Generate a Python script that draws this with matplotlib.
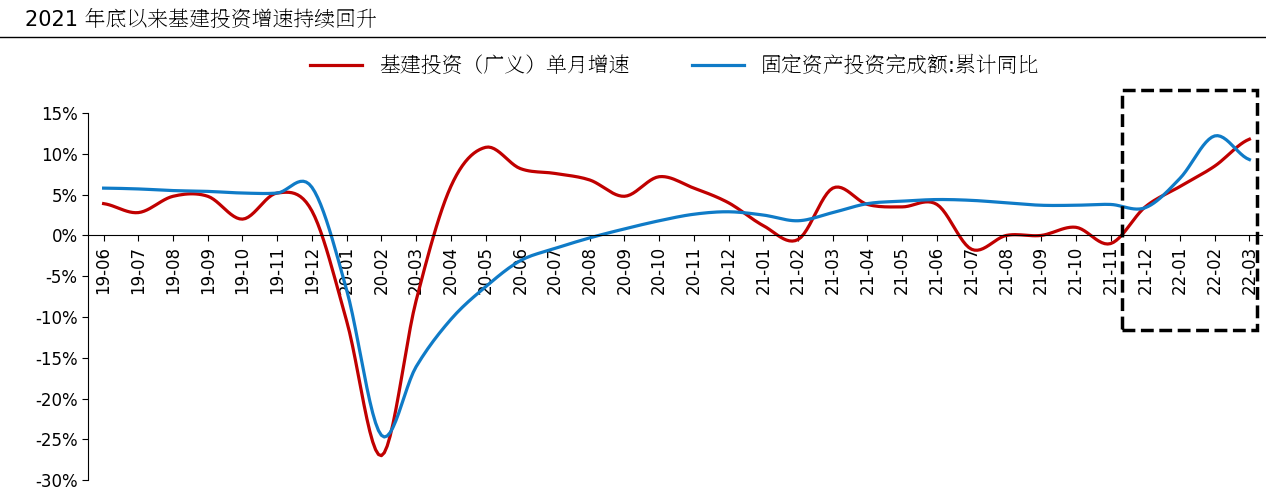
import numpy as np
import matplotlib

matplotlib.use("Agg")
import matplotlib.pyplot as plt
from matplotlib import font_manager
from matplotlib.patches import Rectangle

# pick up a CJK font by file if the family name is not registered
cjk = [f for f in font_manager.findSystemFonts() if "CJK" in f or "Noto" in f and "SC" in f]
for f in cjk:
    try:
        font_manager.fontManager.addfont(f)
    except Exception:
        pass
names = {font_manager.FontProperties(fname=f).get_name() for f in cjk}
family = [n for n in names if "CJK" in n and "SC" in n] or list(names)
plt.rcParams["font.family"] = ["DejaVu Sans"] + family[:1]
plt.rcParams["axes.unicode_minus"] = False

months = [
    "19-06", "19-07", "19-08", "19-09", "19-10", "19-11", "19-12",
    "20-01", "20-02", "20-03", "20-04", "20-05", "20-06", "20-07", "20-08",
    "20-09", "20-10", "20-11", "20-12", "21-01", "21-02", "21-03", "21-04",
    "21-05", "21-06", "21-07", "21-08", "21-09", "21-10", "21-11", "21-12",
    "22-01", "22-02", "22-03",
]
infra = [
    3.9, 2.8, 4.8, 4.8, 2.0, 5.2, 3.0,
    -10.5, -27.0, -8.0, 6.0, 10.8, 8.2, 7.6, 6.8,
    4.8, 7.2, 5.8, 4.0, 1.2, -0.5, 5.8, 3.8,
    3.5, 3.8, -1.7, 0.0, 0.0, 1.0, -1.0, 3.5,
    6.0, 8.5, 11.8,
]
fai = [
    5.8, 5.7, 5.5, 5.4, 5.2, 5.2, 5.9,
    -6.7, -24.5, -16.1, -10.3, -6.3, -3.1, -1.6, -0.3,
    0.8, 1.8, 2.6, 2.9, 2.5, 1.8, 2.8, 3.9,
    4.2, 4.4, 4.3, 4.0, 3.7, 3.7, 3.8, 3.4,
    7.0, 12.2, 9.3,
]


def smooth(y, n=12):
    # Catmull-Rom through the monthly points
    y = np.asarray(y, float)
    p = np.concatenate([[y[0]], y, [y[-1]]])
    xs, ys = [], []
    for i in range(len(y) - 1):
        p0, p1, p2, p3 = p[i], p[i + 1], p[i + 2], p[i + 3]
        t = np.linspace(0, 1, n, endpoint=False)
        v = 0.5 * (2 * p1 + (-p0 + p2) * t + (2 * p0 - 5 * p1 + 4 * p2 - p3) * t**2
                   + (-p0 + 3 * p1 - 3 * p2 + p3) * t**3)
        xs.append(i + t)
        ys.append(v)
    xs.append([len(y) - 1])
    ys.append([y[-1]])
    return np.concatenate(xs), np.concatenate(ys)


fig = plt.figure(figsize=(12.66, 4.96), dpi=100)
ax = fig.add_axes([0.0695, 0.032, 0.927, 0.74])
ax.spines["bottom"].set_position(("data", 0))
ax.spines["top"].set_visible(False)
ax.spines["right"].set_visible(False)

x, y = smooth(infra)
ax.plot(x, y, color="#C00000", lw=2.3, label="基建投资（广义）单月增速")
x, y = smooth(fai)
ax.plot(x, y, color="#0F7BC7", lw=2.3, label="固定资产投资完成额:累计同比")

ax.set_ylim(-30, 15)
ax.set_xlim(-0.45, len(months) - 0.65)
ax.set_yticks(range(-30, 16, 5))
ax.set_yticklabels([f"{v}%" for v in range(-30, 16, 5)], fontsize=12)
ax.set_xticks(range(len(months)))
ax.set_xticklabels(months, rotation=90, fontsize=12)
ax.tick_params(axis="x", direction="out", length=4)
ax.tick_params(axis="y", direction="out", length=4)

ax.legend(loc="lower center", bbox_to_anchor=(0.5, 1.05), ncol=2, frameon=False,
          fontsize=15, columnspacing=3, handlelength=2.5)

fig.add_artist(Rectangle((0.886, 0.335), 0.107, 0.484, transform=fig.transFigure,
                         fill=False, ls="--", lw=2.5, ec="black"))
fig.text(0.02, 0.96, "2021 年底以来基建投资增速持续回升", fontsize=15, va="center")
fig.add_artist(plt.Line2D([0, 1], [0.925, 0.925], transform=fig.transFigure,
                          color="black", lw=1))

fig.savefig("out.png")
